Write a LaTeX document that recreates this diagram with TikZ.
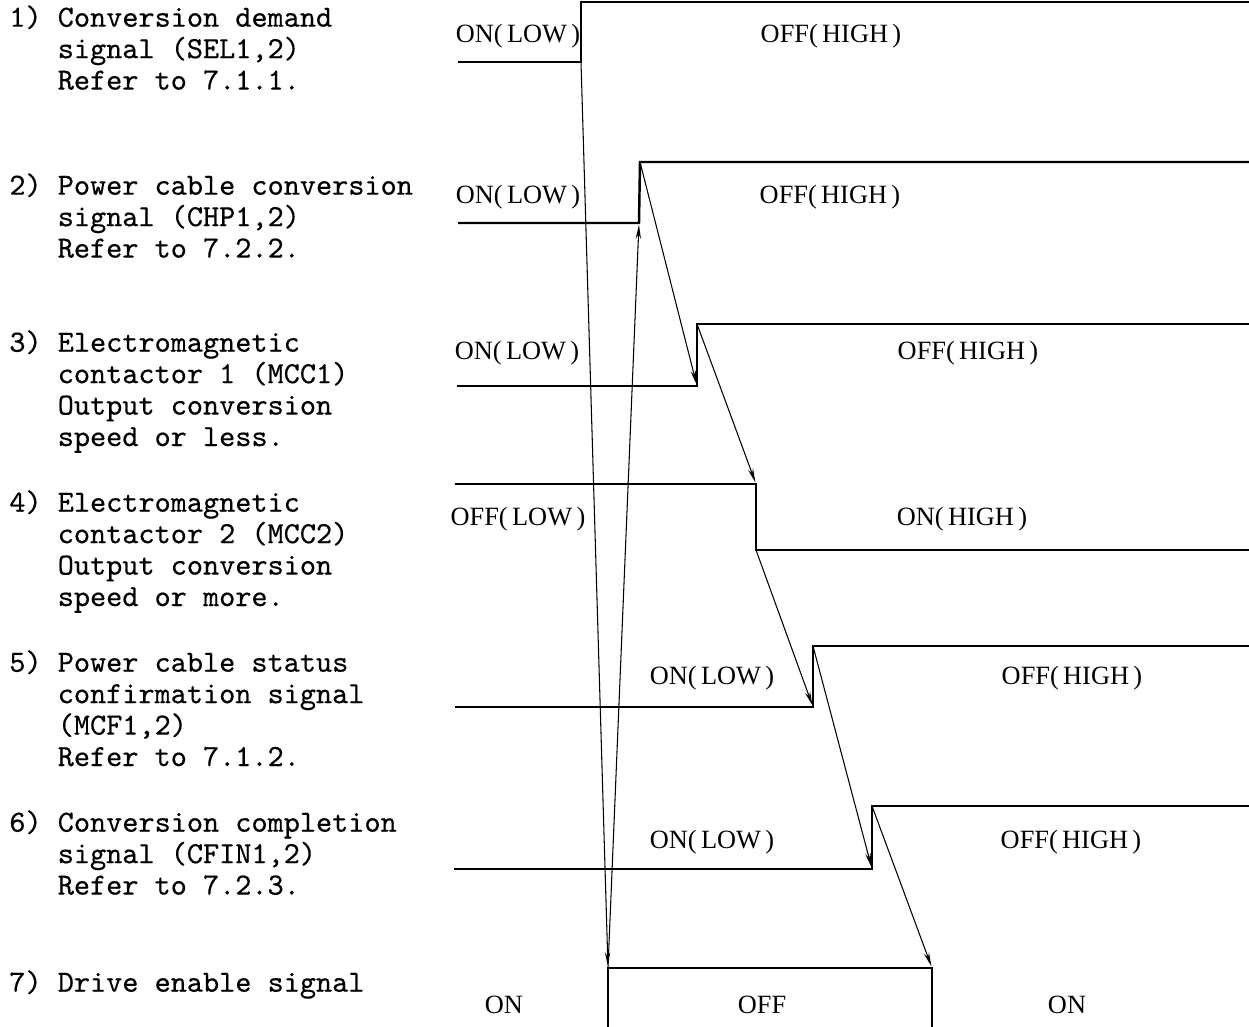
\documentclass[tikz,border=0pt]{standalone}
\usepackage{fontspec}
\usepackage{tikz}
\usetikzlibrary{arrows.meta, positioning}
\newfontfamily\levelfont{Liberation Serif}
\newfontfamily\descfont{lmmono10-regular.otf}[FakeBold=0.4]
\newcommand{\lvp}[1]{(\hspace{2.5pt}#1\hspace{2.5pt})}
\newcommand{\ind}{\hphantom{0) }}

\tikzset{
  wave/.style={line width=1.4pt, line join=miter},
  cause/.style={line width=0.6pt, shorten >=1pt, -{Stealth[length=8pt, width=3pt]}},
  lvl/.style={font=\levelfont\fontsize{15}{17}\selectfont, anchor=base, inner sep=0pt},
  desc/.style={font=\descfont\fontsize{17.5}{17.9}\selectfont, align=left, anchor=north west, inner sep=0pt}
}

\begin{document}
\begin{tikzpicture}[x=0.02cm, y=-0.02cm]
  \useasboundingbox (0,0) rectangle (1249,1027);

  % signal names
  \node[desc] (d1) at (9,5) {1) Conversion demand\\\ind signal (SEL1,2)\\\ind Refer to 7.1.1.};
  \node[desc] (d2) at (9,173) {2) Power cable conversion\\\ind signal (CHP1,2)\\\ind Refer to 7.2.2.};
  \node[desc] (d3) at (9,330) {3) Electromagnetic\\\ind contactor 1 (MCC1)\\\ind Output conversion\\\ind speed or less.};
  \node[desc] (d4) at (9,490) {4) Electromagnetic\\\ind contactor 2 (MCC2)\\\ind Output conversion\\\ind speed or more.};
  \node[desc] (d5) at (9,650) {5) Power cable status\\\ind confirmation signal\\\ind (MCF1,2)\\\ind Refer to 7.1.2.};
  \node[desc] (d6) at (9,810) {6) Conversion completion\\\ind signal (CFIN1,2)\\\ind Refer to 7.2.3.};
  \node[desc] (d7) at (9,970) {7) Drive enable signal};

  % 1) SEL
  \coordinate (s1a) at (458,62);
  \coordinate (s1lo) at (581,62);
  \coordinate (s1hi) at (581,2);
  \coordinate (s1b) at (1249,2);
  \draw[wave] (s1a) -- (s1lo) -- (s1hi) -- (s1b);
  \node[lvl] (s1on) at (518,43) {ON\lvp{LOW}};
  \node[lvl] (s1off) at (831,43) {OFF\lvp{HIGH}};

  % 2) CHP
  \coordinate (s2a) at (458,223);
  \coordinate (s2lo) at (639,223);
  \coordinate (s2hi) at (640,162);
  \coordinate (s2b) at (1249,162);
  \draw[wave] (s2a) -- (s2lo) -- (s2hi) -- (s2b);
  \node[lvl] (s2on) at (518,204) {ON\lvp{LOW}};
  \node[lvl] (s2off) at (830,204) {OFF\lvp{HIGH}};

  % 3) MCC1
  \coordinate (s3a) at (457,386);
  \coordinate (s3lo) at (697,386);
  \coordinate (s3hi) at (697,324);
  \coordinate (s3b) at (1249,324);
  \draw[wave] (s3a) -- (s3lo) -- (s3hi) -- (s3b);
  \node[lvl] (s3on) at (517,360) {ON\lvp{LOW}};
  \node[lvl] (s3off) at (968,360) {OFF\lvp{HIGH}};

  % 4) MCC2
  \coordinate (s4a) at (455,484);
  \coordinate (s4hi) at (756,484);
  \coordinate (s4lo) at (756,550);
  \coordinate (s4b) at (1249,550);
  \draw[wave] (s4a) -- (s4hi) -- (s4lo) -- (s4b);
  \node[lvl] (s4off) at (518,525) {OFF\lvp{LOW}};
  \node[lvl] (s4on) at (962,525) {ON\lvp{HIGH}};

  % 5) MCF
  \coordinate (s5a) at (455,707);
  \coordinate (s5lo) at (813,707);
  \coordinate (s5hi) at (813,646);
  \coordinate (s5b) at (1249,646);
  \draw[wave] (s5a) -- (s5lo) -- (s5hi) -- (s5b);
  \node[lvl] (s5on) at (712,684) {ON\lvp{LOW}};
  \node[lvl] (s5off) at (1072,684) {OFF\lvp{HIGH}};

  % 6) CFIN
  \coordinate (s6a) at (454,869);
  \coordinate (s6lo) at (872,869);
  \coordinate (s6hi) at (872,806);
  \coordinate (s6b) at (1249,806);
  \draw[wave] (s6a) -- (s6lo) -- (s6hi) -- (s6b);
  \node[lvl] (s6on) at (712,848) {ON\lvp{LOW}};
  \node[lvl] (s6off) at (1071,848) {OFF\lvp{HIGH}};

  % 7) drive enable
  \coordinate (s7a) at (608,1027);
  \coordinate (s7up) at (608,968);
  \coordinate (s7dn) at (932,968);
  \coordinate (s7b) at (932,1027);
  \draw[wave] (s7a) -- (s7up) -- (s7dn) -- (s7b);
  \node[lvl] (s7on) at (504,1013) {ON};
  \node[lvl] (s7off) at (762,1013) {OFF};
  \node[lvl] (s7on2) at (1067,1013) {ON};

  % sequence
  \draw[cause] (s1lo) -- (s7up);
  \draw[cause] (s7up) -- (s2lo);
  \draw[cause] (s2hi) -- (s3lo);
  \draw[cause] (s3hi) -- (s4hi);
  \draw[cause] (s4lo) -- (s5lo);
  \draw[cause] (s5hi) -- (s6lo);
  \draw[cause] (s6hi) -- (s7dn);
\end{tikzpicture}
\end{document}
